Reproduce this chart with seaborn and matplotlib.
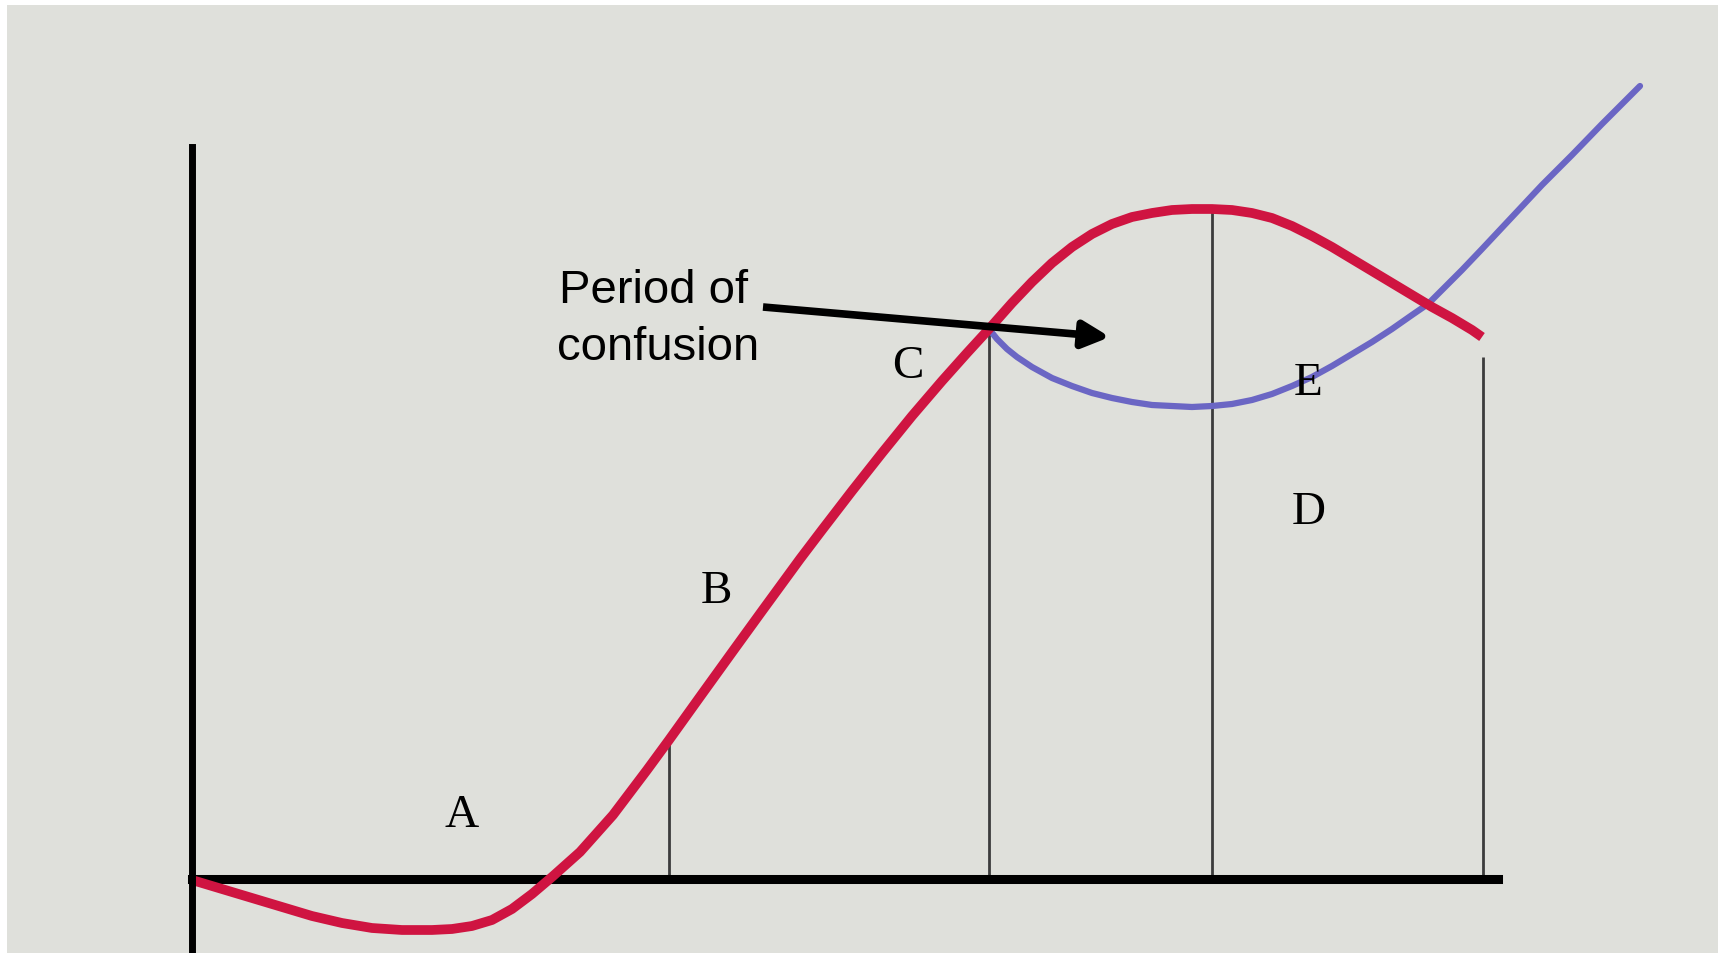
import matplotlib
matplotlib.use("Agg")
import matplotlib.pyplot as plt
import seaborn as sns
import pandas as pd

# ---- data (diagram units: time on x, performance on y) ----
red_x = [0.0, 3.0, 6.0, 9.0, 12.0, 15.0, 18.0, 21.0, 24.0, 26.0, 28.0, 30.0, 32.0, 34.0,
         36.0, 38.8, 42.1, 45.5, 47.7, 51.0, 54.1, 57.0, 60.8, 63.0, 66.0, 69.0, 72.0,
         75.0, 77.5, 79.7, 82.0, 84.0, 86.0, 88.0, 90.0, 92.0, 94.0, 96.0, 98.0, 100.0,
         102.0, 104.0, 106.0, 108.0, 110.0, 112.0, 114.0, 116.0, 118.0, 120.0, 122.0,
         124.0, 126.0, 128.0, 129.0]
red_y = [-0.1, -1.0, -1.9, -2.8, -3.7, -4.4, -4.9, -5.1, -5.1, -5.0, -4.7, -4.1, -3.0, -1.5,
         0.2, 2.7, 6.4, 10.9, 13.9, 18.5, 22.8, 26.8, 32.0, 34.9, 38.8, 42.6, 46.3,
         49.8, 52.6, 55.0, 57.6, 59.7, 61.6, 63.2, 64.5, 65.5, 66.2, 66.6, 66.9, 67.0,
         67.0, 66.9, 66.6, 66.1, 65.3, 64.3, 63.2, 62.0, 60.8, 59.6, 58.4,
         57.2, 56.1, 54.9, 54.2]

blue_x = [79.7, 80.5, 81.5, 82.5, 84.0, 86.0, 88.0, 90.0, 92.0, 94.0, 96.0, 98.0, 100.0,
          102.0, 104.0, 106.0, 108.0, 110.0, 112.0, 114.0, 116.0, 118.0, 120.0, 122.0,
          123.6, 125.0, 127.0, 129.0, 132.0, 135.0, 138.0, 141.0, 144.8]
blue_y = [55.0, 54.0, 53.0, 52.2, 51.2, 50.1, 49.3, 48.6, 48.1, 47.7, 47.4, 47.3, 47.2,
          47.3, 47.5, 47.9, 48.5, 49.3, 50.2, 51.3, 52.5, 53.7, 55.0, 56.4,
          57.5, 58.9, 60.9, 63.0, 66.2, 69.4, 72.4, 75.5, 79.3]

stage_x = [47.7, 79.7, 102.0, 129.1]
stage_top = [13.9, 55.0, 67.0, 52.2]

letters = ["A", "B", "C", "D", "E"]
letter_x = [27.0, 52.4, 71.6, 111.7, 111.6]
letter_y = [5.3, 27.7, 50.2, 35.6, 48.5]

note_lines = ["Period of", "confusion"]
note_x = [36.7, 36.5]
note_y = [57.7, 52.0]
arrow_from = (57.1, 57.2)
arrow_to = (91.8, 54.2)

x_axis_end = 130.6
y_axis_top = 73.2

red_df = pd.DataFrame({"t": red_x, "p": red_y})
blue_df = pd.DataFrame({"t": blue_x, "p": blue_y})

# ---- figure ----
sns.set_theme(style="white")
plt.rcParams["font.family"] = ["Liberation Sans", "DejaVu Sans"]

fig = plt.figure(figsize=(17.18, 9.54), dpi=100, facecolor="white")
ax = fig.add_axes([7 / 1718, 0, 1711 / 1718, 948 / 954])
ax.set_facecolor("#dfe0db")
ax.set_xlim(-18.5, 152.6)
ax.set_ylim(-7.4, 87.4)

# stage separators
ax.vlines(stage_x, 0, stage_top, colors="#3c3c3c", lw=2.0, zorder=2)

sns.lineplot(data=blue_df, x="t", y="p", sort=False, estimator=None, ax=ax,
             color="#6b66c4", lw=4.5, zorder=3, solid_joinstyle="round",
             solid_capstyle="round")
sns.lineplot(data=red_df, x="t", y="p", sort=False, estimator=None, ax=ax,
             color="#cf1441", lw=7.0, zorder=4, solid_capstyle="butt",
             solid_joinstyle="round")

# axes as spines
for s in ["top", "right"]:
    ax.spines[s].set_visible(False)
ax.spines["left"].set_position(("data", 0))
ax.spines["bottom"].set_position(("data", 0))
ax.spines["left"].set_bounds(-7.4, y_axis_top)
ax.spines["bottom"].set_bounds(0, x_axis_end)
ax.spines["left"].set_linewidth(5.0)
ax.spines["bottom"].set_linewidth(6.5)
ax.spines["left"].set_color("black")
ax.spines["bottom"].set_color("black")
ax.spines["left"].set_zorder(5)
ax.spines["bottom"].set_zorder(3.5)
ax.set_xticks([])
ax.set_yticks([])
ax.set_xlabel("")
ax.set_ylabel("")
ax.grid(False)

for lab, lx, ly in zip(letters, letter_x, letter_y):
    ax.text(lx, ly, lab, ha="center", va="baseline", fontsize=34,
            family=["Liberation Serif", "DejaVu Serif"], color="black", zorder=6)

for t, tx, ty in zip(note_lines, note_x, note_y):
    ax.text(tx, ty, t, ha="left", va="baseline", fontsize=34,
            family=["Liberation Sans", "DejaVu Sans"], color="black", zorder=6)

ax.annotate("", xy=arrow_to, xytext=arrow_from,
            arrowprops=dict(arrowstyle="-|>,head_length=16,head_width=8",
                            mutation_scale=1, lw=5.5, color="black",
                            shrinkA=0, shrinkB=0, capstyle="butt"),
            zorder=7)

fig.savefig("out.png", dpi=100, facecolor="white")
